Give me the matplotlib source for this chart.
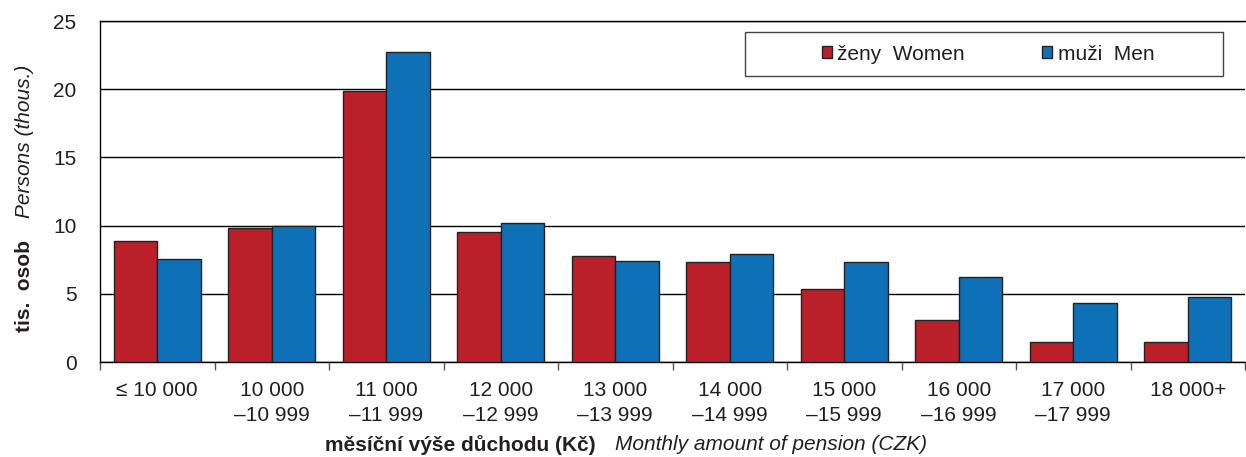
#!/usr/bin/env python3
"""Pensions by monthly amount, women vs men (thousands of persons)."""

import matplotlib.pyplot as plt
from matplotlib.patches import Rectangle
import numpy as np

plt.rcParams["font.family"] = ["Liberation Sans", "DejaVu Sans"]

categories = [
    "\u2264 10 000",
    "10 000\n\u201310 999",
    "11 000\n\u201311 999",
    "12 000\n\u201312 999",
    "13 000\n\u201313 999",
    "14 000\n\u201314 999",
    "15 000\n\u201315 999",
    "16 000\n\u201316 999",
    "17 000\n\u201317 999",
    "18 000+",
]
women = [8.9, 9.8, 19.9, 9.5, 7.8, 7.3, 5.35, 3.05, 1.5, 1.45]
men = [7.55, 10.0, 22.7, 10.2, 7.4, 7.9, 7.35, 6.2, 4.35, 4.8]

RED = "#BA1F2A"
BLUE = "#0E71B8"
TXT = "#231F20"
FS = 15

fig = plt.figure(figsize=(12.46, 4.57), dpi=100)
ax = fig.add_axes([100 / 1246, 95 / 457, 1145 / 1246, 341 / 457])

x = np.arange(len(categories))
w = 0.38
ax.bar(x - w / 2, women, w, color=RED, edgecolor="#222222", linewidth=1.0,
       label="\u017eeny  Women", zorder=3)
ax.bar(x + w / 2, men, w, color=BLUE, edgecolor="#222222", linewidth=1.0,
       label="mu\u017ei  Men", zorder=3)

ax.set_xlim(-0.5, len(categories) - 0.5)
ax.set_ylim(0, 25)
ax.set_yticks([0, 5, 10, 15, 20, 25])
ax.yaxis.grid(True, color="black", linewidth=1.0, zorder=0)
ax.tick_params(axis="y", length=0, pad=17, labelsize=FS, colors=TXT)

ax.set_xticks(x)
ax.set_xticklabels(categories, linespacing=1.35)
ax.set_xticks(np.arange(len(categories) + 1) - 0.5, minor=True)
ax.tick_params(axis="x", which="major", length=0, pad=14, labelsize=FS,
               colors=TXT)
ax.tick_params(axis="x", which="minor", length=6, color="#555555", width=1)
for lbl in ax.get_xticklabels():
    lbl.set_verticalalignment("top")

for side in ["left", "bottom", "top"]:
    ax.spines[side].set_color("black")
    ax.spines[side].set_linewidth(1.0)
ax.spines["right"].set_visible(False)

# legend: fixed-width frame with the entries centred inside
ax.add_patch(Rectangle((645 / 1145, 286 / 341), 478 / 1145, 44 / 341,
                       transform=ax.transAxes, facecolor="white",
                       edgecolor="#444444", linewidth=1.0, zorder=4))
leg = ax.legend(ncol=2, loc="center", bbox_to_anchor=(888 / 1145, 308 / 341),
                fontsize=FS, frameon=False, handlelength=0.5,
                handleheight=0.5, handletextpad=0.25, columnspacing=3.7,
                borderpad=0)
leg.set_zorder(5)
for t in leg.get_texts():
    t.set_color(TXT)

# y label: bold Czech + italic English, rotated
fig.text(25 / 1246, 1 - 286 / 457, "tis.  osob", rotation=90, fontsize=FS,
         fontweight="bold", ha="center", va="center", color=TXT)
fig.text(25 / 1246, 1 - 141 / 457, "Persons (thous.)", rotation=90,
         fontsize=FS, fontstyle="italic", ha="center", va="center", color=TXT)

# x label
fig.text(325 / 1246, 1 - 445 / 457,
         "m\u011bs\u00ed\u010dn\u00ed v\u00fd\u0161e d\u016fchodu (K\u010d)",
         fontsize=FS, fontweight="bold", ha="left", va="center", color=TXT)
fig.text(615 / 1246, 1 - 445 / 457, "Monthly amount of pension (CZK)",
         fontsize=FS, fontstyle="italic", ha="left", va="center", color=TXT)

fig.savefig("out.png", dpi=100)
